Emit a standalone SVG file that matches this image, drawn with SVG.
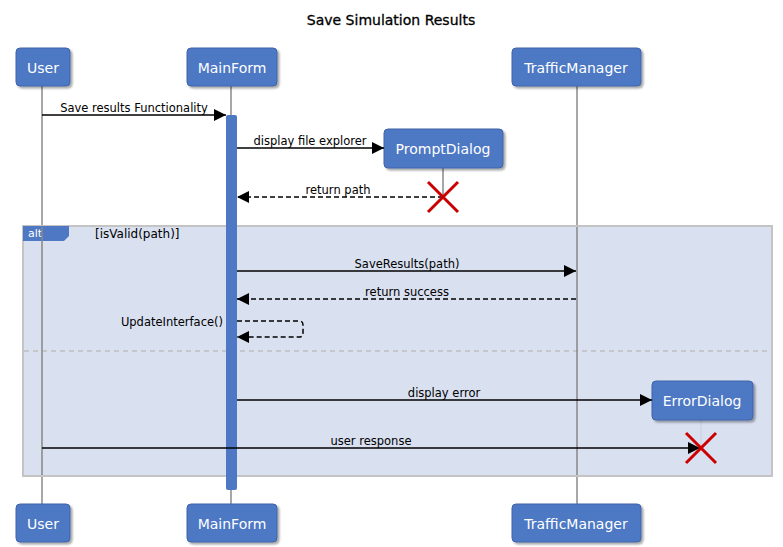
<svg xmlns="http://www.w3.org/2000/svg" width="783" height="547" viewBox="0 0 783 547">
<style>
.node rect{fill:#4e78c4;stroke:#3f63a8;stroke-width:1;filter:url(#sh)}
.node text{fill:#fff;font-family:"DejaVu Sans",Verdana,sans-serif;font-size:14px;text-anchor:middle}
.life{stroke:#8a8a8a;stroke-width:1.5}
.msg{stroke:#000;stroke-width:1.5;fill:none}
.dash{stroke-dasharray:5,3}
.lbl{font-family:"DejaVu Sans",Verdana,sans-serif;font-size:11.5px;fill:#000;text-anchor:middle}
.x{stroke:#cc0000;stroke-width:3}
</style>
<defs>
<filter id="sh" x="-20%" y="-20%" width="140%" height="150%"><feDropShadow dx="2" dy="2" stdDeviation="1.2" flood-color="#000" flood-opacity="0.35"/></filter>
<marker id="ah" viewBox="0 0 12 12" refX="12" refY="6" markerWidth="12" markerHeight="12" markerUnits="userSpaceOnUse" orient="auto"><path d="M0,0 L12,6 L0,12 z" fill="#000"/></marker>
</defs>
<rect width="783" height="547" fill="#fff"/>
<text x="391" y="25" font-family="DejaVu Sans,Verdana,sans-serif" font-size="14" text-anchor="middle" fill="#000" stroke="#000" stroke-width="0.3">Save Simulation Results</text>

<g id="lifelines">
<line class="life" x1="42" y1="86" x2="42" y2="504"/>
<line class="life" x1="231" y1="86" x2="231" y2="504"/>
<line class="life" x1="577" y1="86" x2="577" y2="504"/>
<line class="life" x1="443" y1="168" x2="443" y2="197"/>
<line class="life" x1="701" y1="420" x2="701" y2="448"/>
</g>

<g id="alt">
<rect x="23" y="226" width="749" height="250" fill="#d5def0" stroke="#c4c4c4" stroke-width="2" fill-opacity="0.9"/>
<path d="M23,226 H69 V236 L64,241 H23 Z" fill="#4e78c4"/>
<text x="28" y="237" font-family="DejaVu Sans,Verdana,sans-serif" font-size="11" fill="#fff">alt</text>
<text x="95" y="238" font-family="DejaVu Sans,Verdana,sans-serif" font-size="12" fill="#000">[isValid(path)]</text>
<line x1="24" y1="351" x2="771" y2="351" stroke="#bdbdbd" stroke-width="1.5" stroke-dasharray="5,4"/>
</g>
<line class="life" x1="42" y1="227" x2="42" y2="475"/>
<line class="life" x1="577" y1="227" x2="577" y2="475"/>

<rect id="activation" x="226" y="115" width="11" height="375" rx="2" fill="#4e78c4"/>

<g id="User-top" class="node"><rect x="16" y="48" width="54" height="38" rx="4"/><text x="43" y="73">User</text></g>
<g id="MainForm-top" class="node"><rect x="187" y="48" width="90" height="38" rx="4"/><text x="232" y="73">MainForm</text></g>
<g id="TrafficManager-top" class="node"><rect x="512" y="48" width="129" height="38" rx="4"/><text x="576" y="73">TrafficManager</text></g>
<g id="PromptDialog" class="node"><rect x="384" y="129" width="119" height="39" rx="4"/><text x="443" y="154">PromptDialog</text></g>
<g id="ErrorDialog" class="node"><rect x="652" y="381" width="101" height="39" rx="4"/><text x="702" y="406">ErrorDialog</text></g>
<g id="User-bottom" class="node"><rect x="16" y="504" width="54" height="38" rx="4"/><text x="43" y="529">User</text></g>
<g id="MainForm-bottom" class="node"><rect x="187" y="504" width="90" height="38" rx="4"/><text x="232" y="529">MainForm</text></g>
<g id="TrafficManager-bottom" class="node"><rect x="512" y="504" width="129" height="38" rx="4"/><text x="576" y="529">TrafficManager</text></g>

<g id="connectors">
<line class="msg" x1="42" y1="115" x2="226" y2="115" marker-end="url(#ah)"/>
<text class="lbl" x="134" y="112">Save results Functionality</text>
<line class="msg" x1="237" y1="148" x2="384" y2="148" marker-end="url(#ah)"/>
<text class="lbl" x="310" y="145">display file explorer</text>
<line class="msg dash" x1="443" y1="197" x2="237" y2="197" marker-end="url(#ah)"/>
<text class="lbl" x="338" y="194">return path</text>
<line class="msg" x1="237" y1="271" x2="576" y2="271" marker-end="url(#ah)"/>
<text class="lbl" x="407" y="268">SaveResults(path)</text>
<line class="msg dash" x1="576" y1="299" x2="237" y2="299" marker-end="url(#ah)"/>
<text class="lbl" x="407" y="296">return success</text>
<path class="msg dash" d="M237,321 H299 Q303,321 303,325 V333 Q303,337 299,337 H237" marker-end="url(#ah)"/>
<text class="lbl" x="223" y="326" style="text-anchor:end">UpdateInterface()</text>
<line class="msg" x1="237" y1="400" x2="652" y2="400" marker-end="url(#ah)"/>
<text class="lbl" x="444" y="397">display error</text>
<line class="msg" x1="42" y1="448" x2="700" y2="448" marker-end="url(#ah)"/>
<text class="lbl" x="371" y="445">user response</text>
</g>

<g id="destroy">
<path class="x" d="M428,182 L458,212 M458,182 L428,212"/>
<path class="x" d="M686,433 L716,463 M716,433 L686,463"/>
</g>
</svg>
